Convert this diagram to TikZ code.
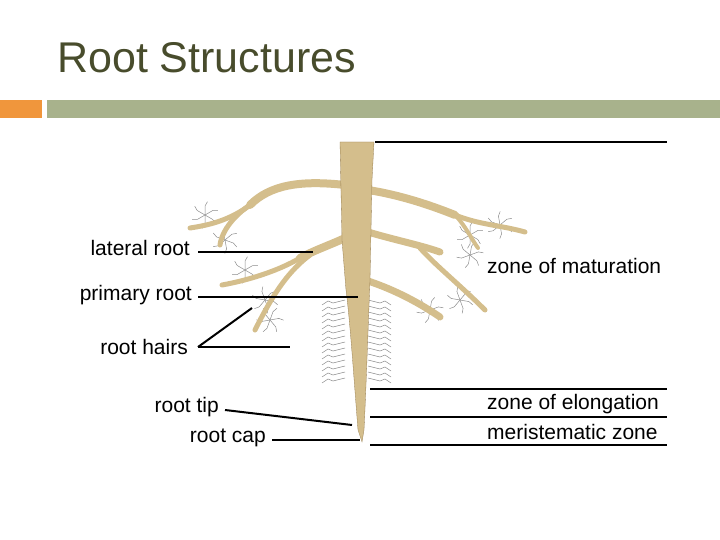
\documentclass[tikz,border=0pt]{standalone}
\usepackage{fontspec}
\setmainfont{Liberation Sans}
\definecolor{titlec}{RGB}{72,76,44}
\definecolor{orangebar}{RGB}{240,150,60}
\definecolor{greenbar}{RGB}{168,178,140}
\definecolor{rootc}{RGB}{212,190,140}
\definecolor{rootedge}{RGB}{150,125,80}
\definecolor{hairc}{RGB}{140,140,140}
\begin{document}
\begin{tikzpicture}[x=1pt,y=-1pt,
  lbl/.style={inner sep=0pt,font=\fontsize{21}{23}\selectfont},
  leader/.style={line width=2pt,black},
  br/.style={rootc,line cap=round,line join=round},
  hair/.style={hairc,line width=0.5pt}]
\useasboundingbox (0,0) rectangle (720,540);
\node[anchor=west,inner sep=0pt,text=titlec,font=\fontsize{43}{46}\selectfont] (title) at (57,58) {Root Structures};
\fill[orangebar] (0,100) rectangle (42,118);
\fill[greenbar] (47,100) rectangle (720,118);
% root hairs
\foreach \y in {300,306,...,380}{
  \draw[hair] (345,\y) -- ++(-12,3) -- ++(-5,-2) -- ++(-6,4);
  \draw[hair] (368,\y) -- ++(12,3) -- ++(5,-2) -- ++(6,4);
}
\foreach \p/\a in {{(205,215)}/150,{(225,240)}/200,{(245,270)}/150,{(265,300)}/190,{(270,320)}/170,{(500,225)}/20,{(470,235)}/-30,{(460,300)}/10,{(430,310)}/-20,{(470,255)}/40}{
  \foreach \k in {0,60,...,300}
    \draw[hair] \p -- ++(\a+\k:9) -- ++(\a+\k+30:5);
}
% branches
\draw[br,line width=8pt] (345,185) .. controls (300,180) and (270,185) .. (250,205);
\draw[br,line width=5pt] (250,205) .. controls (230,220) and (210,225) .. (190,228);
\draw[br,line width=5pt] (250,205) .. controls (235,215) and (222,230) .. (220,245);
\draw[br,line width=8pt] (345,238) .. controls (330,245) and (315,250) .. (300,258);
\draw[br,line width=5pt] (300,258) .. controls (280,270) and (250,280) .. (222,285);
\draw[br,line width=5pt] (310,255) .. controls (290,270) and (275,290) .. (255,330);
\draw[br,line width=8pt] (368,190) .. controls (400,195) and (430,205) .. (455,215);
\draw[br,line width=5pt] (455,215) .. controls (480,225) and (500,225) .. (525,232);
\draw[br,line width=4pt] (455,215) .. controls (465,225) and (472,240) .. (478,248);
\draw[br,line width=7pt] (368,232) .. controls (395,240) and (420,245) .. (440,252);
\draw[br,line width=5pt] (420,248) .. controls (435,265) and (460,285) .. (485,310);
\draw[br,line width=7pt] (365,280) .. controls (390,288) and (415,300) .. (440,317);
% main root
\fill[rootc,draw=rootedge,line width=0.3pt] (340,142) -- (374,142) -- (372,180) -- (370,280)
  .. controls (368,330) and (366,390) .. (364,430) -- (362,442) -- (358,430)
  .. controls (354,380) and (350,320) .. (346,290) -- (342,240) -- (340,142) -- cycle;
% labels
\node[lbl,anchor=east] (lat) at (190,248) {lateral root};
\node[lbl,anchor=east] (prim) at (192,295) {primary root};
\node[lbl,anchor=east] (hairs) at (188,347) {root hairs};
\node[lbl,anchor=east] (tip) at (219,407) {root tip};
\node[lbl,anchor=east] (cap) at (266,438) {root cap};
\node[lbl,anchor=west] (mat) at (487,266) {zone of maturation};
\node[lbl,anchor=west] (elo) at (487,404) {zone of elongation};
\node[lbl,anchor=west] (mer) at (487,432) {meristematic zone};
\coordinate (latE) at (313,252);
\coordinate (primE) at (358,297);
\coordinate (hA) at (290,347);
\coordinate (hB) at (252,308);
\coordinate (tipE) at (352,425);
\coordinate (capE) at (360,440);
\draw[leader] (lat.east |- latE) ++(8,0) -- (latE);
\draw[leader] (prim.east |- primE) ++(6,0) -- (primE);
\draw[leader] (198,347) -- (hA);
\draw[leader] (198,347) -- (hB);
\draw[leader] (225,410) -- (tipE);
\draw[leader] (272,440) -- (capE);
\draw[line width=1.2pt] (375,142) -- (667,142);
\draw[line width=1.2pt] (370,389) -- (667,389);
\draw[line width=1.2pt] (370,417) -- (667,417);
\draw[line width=1.2pt] (370,445) -- (667,445);
\end{tikzpicture}
\end{document}
